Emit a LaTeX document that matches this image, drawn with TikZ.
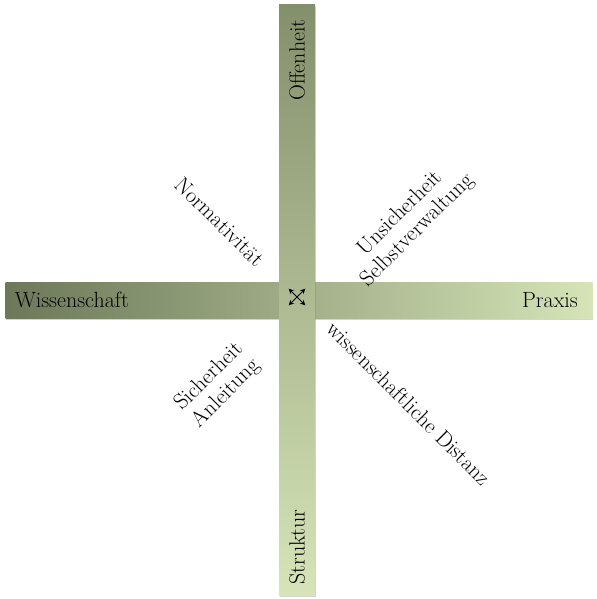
\documentclass[tikz,border=0pt]{standalone}
\usepackage{tikz}
\usetikzlibrary{shadows}

\definecolor{hDark}{RGB}{108,120,88}
\definecolor{vDark}{RGB}{132,144,108}
\definecolor{barLight}{RGB}{214,228,184}

\begin{document}
\begin{tikzpicture}[x=0.75pt, y=-0.75pt,
	bar/.style={drop shadow={shadow xshift=0.6pt, shadow yshift=-1.5pt, opacity=0.35}, inner sep=0pt},
	lbl/.style={font=\fontsize{16.5}{18}\selectfont, inner sep=1pt},
	diag/.style={font=\fontsize{16.5}{18}\selectfont, align=center, inner sep=0pt}]
	\useasboundingbox (0,0) rectangle (596,599);

	\node[bar, left color=hDark, right color=barLight, minimum width=440.25pt, minimum height=27pt] (hbar) at (299,300) {};
	\node[bar, top color=vDark, bottom color=barLight, minimum width=27pt, minimum height=442.5pt] (vbar) at (297,300) {};

	\node[lbl, anchor=west] (wiss) at (hbar.west) [xshift=6pt] {Wissenschaft};
	\node[lbl, anchor=east] (praxis) at (hbar.east) [xshift=-10pt] {Praxis};
	\node[lbl, rotate=90] (offen) at (297,60) {Offenheit};
	\node[lbl, rotate=90] (struktur) at (297,547) {Struktur};

	\node[diag, rotate=-45] (norm) at (220,222) {Normativität};
	\node[diag, rotate=45] (unsich) at (409,222) {Unsicherheit\\Selbstverwaltung};
	\node[diag, rotate=45] (sich) at (218,385) {Sicherheit\\Anleitung};
	\node[diag, rotate=-45] (distanz) at (409,403) {wissenschaftliche Distanz};

	\node[minimum size=12pt, inner sep=0pt] (mid) at (297,297) {};
	\draw[->, >=stealth, line width=0.7pt] (mid.center) -- (mid.north east);
	\draw[->, >=stealth, line width=0.7pt] (mid.center) -- (mid.north west);
	\draw[->, >=stealth, line width=0.7pt] (mid.center) -- (mid.south east);
	\draw[->, >=stealth, line width=0.7pt] (mid.center) -- (mid.south west);
\end{tikzpicture}
\end{document}
